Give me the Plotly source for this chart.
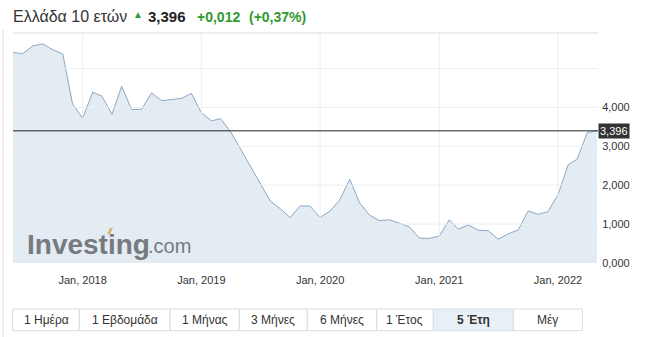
import pandas as pd
import plotly.graph_objects as go

# ---- data (monthly yield, %) ----
start_month = "2017-06-01"
yield_values = [
    5.41, 5.38, 5.58, 5.63, 5.48, 5.37, 4.09, 3.72, 4.39, 4.29,
    3.82, 4.54, 3.94, 3.95, 4.37, 4.17, 4.20, 4.23, 4.36, 3.86,
    3.65, 3.71, 3.37, 2.93, 2.49, 2.03, 1.59, 1.39, 1.17, 1.47,
    1.46, 1.17, 1.34, 1.62, 2.15, 1.55, 1.23, 1.09, 1.11, 1.02,
    0.93, 0.64, 0.63, 0.69, 1.11, 0.87, 0.98, 0.84, 0.83, 0.61,
    0.75, 0.85, 1.34, 1.25, 1.32, 1.75, 2.52, 2.67, 3.35, 3.396,
]
dates = pd.date_range(start_month, periods=len(yield_values), freq="MS")
last_value = 3.396
y_ticks = [0, 1, 2, 3, 4]
grid_y = [1, 2, 3, 4, 5]
year_ticks = ["2018-01-01", "2019-01-01", "2020-01-01", "2021-01-01", "2022-01-01"]
title_text = "Ελλάδα 10 ετών"
price_text = "3,396"
change_text = "+0,012"
pct_text = "(+0,37%)"
buttons = ["1 Ημέρα", "1 Εβδομάδα", "1 Μήνας", "3 Μήνες", "6 Μήνες", "1 Έτος", "5 Έτη", "Μέγ"]
button_edges = [12.7, 79.3, 170, 239.3, 307.3, 376.7, 433.3, 513.3, 582.3]
active_button = "5 Έτη"

# ---- layout geometry (pixels) ----
W, H = 650, 337
L, R, T, B = 13, 598, 33, 263
PW, PH = R - L, B - T


def px(x):
    return (x - L) / PW


def py(y):
    return (B - y) / PH


FONT = "Liberation Sans, Arial, sans-serif"
GREEN = "#2f9a2f"
GRID = "#ebeef2"

fig = go.Figure()
fig.add_trace(go.Scatter(
    x=dates, y=yield_values, mode="lines",
    line=dict(color="#8da7c0", width=1),
    fill="tozeroy", fillcolor="#e4ecf3",
    hoverinfo="skip", showlegend=False,
))

shapes = []
for g in grid_y:
    shapes.append(dict(type="line", xref="paper", yref="y", x0=0, x1=1, y0=g, y1=g,
                       line=dict(color=GRID, width=1), layer="above"))
for d in year_ticks:
    shapes.append(dict(type="line", xref="x", yref="paper", x0=d, x1=d, y0=0, y1=1,
                       line=dict(color=GRID, width=1), layer="above"))
# current value line
shapes.append(dict(type="line", xref="paper", yref="y", x0=0, x1=1, y0=last_value, y1=last_value,
                   line=dict(color="#222222", width=1), layer="above"))
# plot top border
shapes.append(dict(type="line", xref="paper", yref="paper", x0=0, x1=1, y0=1, y1=1,
                   line=dict(color="#dddddd", width=1)))
# outer container left border
shapes.append(dict(type="line", xref="paper", yref="paper", x0=px(3), x1=px(3), y0=py(30), y1=py(337),
                   line=dict(color="#dddddd", width=1)))

annotations = []
# title row
annotations.append(dict(text=title_text, xref="paper", yref="paper", x=px(11), y=py(17),
                        xanchor="left", yanchor="middle", showarrow=False,
                        font=dict(family=FONT, size=16, color="#333333")))
annotations.append(dict(text="▲", xref="paper", yref="paper", x=px(138), y=py(14),
                        xanchor="center", yanchor="middle", showarrow=False,
                        font=dict(family=FONT, size=10, color=GREEN)))
annotations.append(dict(text="<b>" + price_text + "</b>", xref="paper", yref="paper", x=px(146), y=py(17),
                        xanchor="left", yanchor="middle", showarrow=False,
                        font=dict(family=FONT, size=15, color="#222222")))
annotations.append(dict(text="<b>" + change_text + "</b>", xref="paper", yref="paper", x=px(195), y=py(17),
                        xanchor="left", yanchor="middle", showarrow=False,
                        font=dict(family=FONT, size=14, color=GREEN)))
annotations.append(dict(text="<b>" + pct_text + "</b>", xref="paper", yref="paper", x=px(247), y=py(17),
                        xanchor="left", yanchor="middle", showarrow=False,
                        font=dict(family=FONT, size=14, color=GREEN)))
# last value label
annotations.append(dict(text=price_text, xref="paper", yref="y", x=1, y=last_value,
                        xanchor="left", yanchor="middle", showarrow=False,
                        bgcolor="#333333", borderpad=1,
                        font=dict(family=FONT, size=11, color="#ffffff")))
# watermark logo
annotations.append(dict(text="<b>Investing</b>", xref="paper", yref="paper", x=px(25), y=py(244),
                        xanchor="left", yanchor="middle", showarrow=False,
                        font=dict(family=FONT, size=28, color="#777a7e")))
annotations.append(dict(text=".com", xref="paper", yref="paper", x=px(146), y=py(246),
                        xanchor="left", yanchor="middle", showarrow=False,
                        font=dict(family=FONT, size=20, color="#777a7e")))
shapes.append(dict(type="path", xref="paper", yref="paper",
                   path="M {} {} L {} {} L {} {} L {} {} Z".format(
                       px(107), py(234), px(110), py(228), px(113), py(228), px(110), py(234)),
                   fillcolor="#d8b56e", line=dict(width=0), layer="above"))

# range buttons
by0, by1 = 309, 330.7
for i, lab in enumerate(buttons):
    x0, x1 = button_edges[i], button_edges[i + 1]
    active = lab == active_button
    shapes.append(dict(type="rect", xref="paper", yref="paper",
                       x0=px(x0), x1=px(x1), y0=py(by1), y1=py(by0),
                       line=dict(color="#dcdcdc", width=1),
                       fillcolor="#e8f0f8" if active else "#ffffff"))
    annotations.append(dict(text=("<b>" + lab + "</b>") if active else lab,
                            xref="paper", yref="paper", x=px((x0 + x1) / 2), y=py((by0 + by1) / 2),
                            xanchor="center", yanchor="middle", showarrow=False,
                            font=dict(family=FONT, size=12, color="#333333")))

fig.update_layout(
    width=W, height=H,
    margin=dict(l=L, r=W - R, t=T, b=H - B, pad=0),
    paper_bgcolor="#ffffff", plot_bgcolor="#ffffff",
    separators=",.",
    showlegend=False,
    shapes=shapes, annotations=annotations,
    font=dict(family=FONT, size=11, color="#333333"),
)
fig.update_xaxes(
    type="date", range=["2017-06-01", "2022-05-04"],
    tickvals=year_ticks, tickformat="%b, %Y",
    showgrid=False, zeroline=False, showline=False,
    ticks="outside", ticklen=7, tickcolor="rgba(0,0,0,0)",
    tickfont=dict(family=FONT, size=11, color="#333333"),
)
fig.update_yaxes(
    range=[0, 5.91], side="right",
    tickvals=y_ticks, tickformat=".3f",
    showgrid=False, zeroline=False, showline=False,
    ticks="outside", ticklen=1, tickcolor="rgba(0,0,0,0)",
    tickfont=dict(family=FONT, size=11, color="#333333"),
)

fig.write_html("out.html")
